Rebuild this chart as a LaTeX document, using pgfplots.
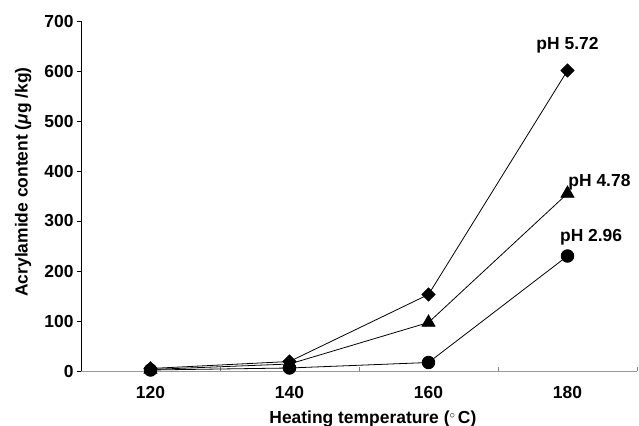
\documentclass[border=0pt]{standalone}
\usepackage{pgfplots}
\pgfplotsset{compat=1.18}
\usepackage{fontspec}
\setmainfont{Liberation Sans}
\newcommand{\bigf}{\fontsize{17.5}{19}\selectfont\bfseries}
\begin{document}
\begin{tikzpicture}
\path[use as bounding box] (-81bp,-55bp) rectangle (558bp,371bp);
\begin{axis}[
  at={(0,0)}, anchor=south west,
  scale only axis, width=556bp, height=350bp,
  xmin=110, xmax=190, ymin=0, ymax=700,
  axis lines*=left,
  x axis line style={gray!80, line width=1pt},
  y axis line style={black, line width=0.8pt},
  xtick={130,150,170,190}, xticklabels={},
  xtick style={gray, line width=0.6pt},
  xtick align=inside,
  extra x ticks={120,140,160,180},
  extra x tick labels={120,140,160,180},
  extra x tick style={major tick length=0pt},
  ytick={0,100,...,700},
  ytick align=outside,
  ytick style={black, line width=0.8pt},
  major tick length=4bp,
  tick label style={font=\bigf},
  /pgf/number format/assume math mode=true,
  xticklabel style={yshift=-12bp},
  yticklabel style={anchor=east, xshift=0bp},
  xlabel={Heating temperature (\raisebox{0.5ex}{\fontsize{11}{12}\selectfont$\circ$}\,C)},
  ylabel={Acrylamide content (\textit{μ}g /kg)},
  xlabel style={font=\bigf, at={(axis description cs:0.525,0)}, anchor=center, yshift=-48bp},
  ylabel style={font=\bigf, at={(axis description cs:-0.104,0.54)}, anchor=center},
  clip=false,
]
\addplot[black, line width=0.8pt, mark=square*, mark size=4.7bp, mark options={rotate=45, solid}]
  coordinates {(120,5) (140,19) (160,153) (180,601)};
\addplot[black, line width=0.8pt, mark=triangle*, mark size=7.5bp, mark options={solid}]
  coordinates {(120,3) (140,14) (160,97) (180,355)};
\addplot[black, line width=0.8pt, mark=*, mark size=6.3bp, mark options={solid}]
  coordinates {(120,2) (140,6) (160,17) (180,230)};
\node[font=\bigf] at (axis cs:180,652) {pH 5.72};
\node[font=\bigf] at (axis cs:184.6,378) {pH 4.78};
\node[font=\bigf] at (axis cs:183.4,268) {pH 2.96};
\end{axis}
\end{tikzpicture}
\end{document}
